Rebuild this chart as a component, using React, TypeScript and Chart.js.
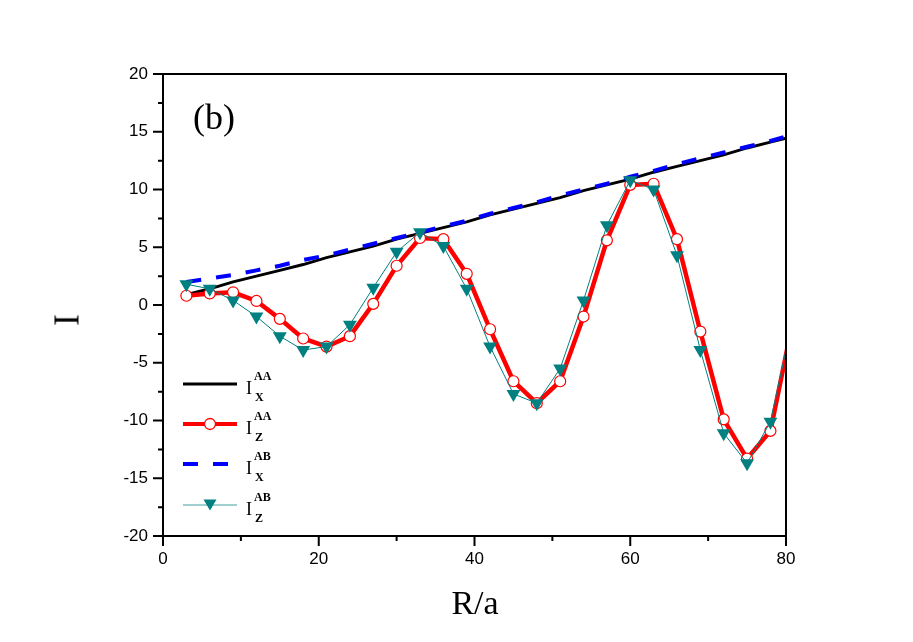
import React, { useEffect, useRef } from "react";
import { Chart, registerables } from "chart.js";

Chart.register(...registerables);

// R/a values
const R_VALUES = [3, 6, 9, 12, 15, 18, 21, 24, 27, 30, 33, 36, 39, 42, 45, 48, 51, 54, 57, 60, 63, 66, 69, 72, 75, 78, 81];
// I_X^AA (black solid)
const IX_AA = [0.9, 1.4, 2.0, 2.5, 3.0, 3.5, 4.1, 4.6, 5.1, 5.7, 6.2, 6.7, 7.2, 7.8, 8.3, 8.8, 9.3, 9.9, 10.4, 10.9, 11.5, 12.0, 12.5, 13.0, 13.6, 14.1, 14.6];
// I_Z^AA (red, open circles)
const IZ_AA = [0.8, 1.0, 1.1, 0.35, -1.2, -2.9, -3.6, -2.7, 0.1, 3.4, 5.8, 5.7, 2.7, -2.1, -6.6, -8.5, -6.6, -1.0, 5.6, 10.4, 10.5, 5.7, -2.3, -9.9, -13.3, -10.9, -1.0];
// I_X^AB (blue dashed)
const IX_AB = [2.0, 2.3, 2.6, 3.0, 3.4, 3.9, 4.3, 4.8, 5.3, 5.8, 6.3, 6.8, 7.3, 7.9, 8.4, 8.9, 9.5, 10.0, 10.5, 11.1, 11.6, 12.2, 12.7, 13.2, 13.7, 14.2, 14.8];
// I_Z^AB (teal, down triangles)
const IZ_AB = [1.8, 1.4, 0.4, -1.0, -2.7, -3.9, -3.6, -1.7, 1.5, 4.6, 6.3, 5.1, 1.4, -3.6, -7.7, -8.5, -5.5, 0.4, 6.9, 10.8, 10.0, 4.3, -3.9, -11.1, -13.7, -10.1, -0.8];

const X_TICKS = [0, 20, 40, 60, 80];
const Y_TICKS = [-20, -15, -10, -5, 0, 5, 10, 15, 20];

const TEAL = "#008080";

const toPts = (ys: number[]) => R_VALUES.map((x, i) => ({ x, y: ys[i] }));

const frameAndTicks = {
  id: "frameAndTicks",
  afterDraw(chart: any) {
    const { ctx, chartArea } = chart;
    const { left, right, top, bottom } = chartArea;
    const xs = chart.scales.x;
    const ys = chart.scales.y;
    ctx.save();
    ctx.strokeStyle = "#000";
    ctx.lineWidth = 2;
    ctx.strokeRect(left, top, right - left, bottom - top);
    ctx.beginPath();
    for (let i = 0; i < Y_TICKS.length; i++) {
      const py = ys.getPixelForValue(Y_TICKS[i]);
      ctx.moveTo(left - 10, py);
      ctx.lineTo(left, py);
      if (i < Y_TICKS.length - 1) {
        const my = ys.getPixelForValue((Y_TICKS[i] + Y_TICKS[i + 1]) / 2);
        ctx.moveTo(left - 5, my);
        ctx.lineTo(left, my);
      }
    }
    for (let i = 0; i < X_TICKS.length; i++) {
      const px = xs.getPixelForValue(X_TICKS[i]);
      ctx.moveTo(px, bottom);
      ctx.lineTo(px, bottom + 10);
      if (i < X_TICKS.length - 1) {
        const mx = xs.getPixelForValue((X_TICKS[i] + X_TICKS[i + 1]) / 2);
        ctx.moveTo(mx, bottom);
        ctx.lineTo(mx, bottom + 5);
      }
    }
    ctx.stroke();
    ctx.restore();
  },
};

const serif = "'Liberation Serif', 'Times New Roman', serif";

function LegendRow({ yc, label, sup, sub, kind }: { yc: number; label: string; sup: string; sub: string; kind: string }) {
  let sample: any = null;
  if (kind === "black") {
    sample = <line x1={0} y1={10} x2={54} y2={10} stroke="#000" strokeWidth={3} />;
  } else if (kind === "red") {
    sample = (
      <g>
        <line x1={0} y1={10} x2={54} y2={10} stroke="#ff0000" strokeWidth={4} />
        <circle cx={27} cy={10} r={5.5} fill="#fff" stroke="#ff0000" strokeWidth={1.3} />
      </g>
    );
  } else if (kind === "blue") {
    sample = <line x1={0} y1={10} x2={48} y2={10} stroke="#0000ff" strokeWidth={4} strokeDasharray="15 15" />;
  } else {
    sample = (
      <g>
        <line x1={0} y1={10} x2={54} y2={10} stroke="#7fbfbf" strokeWidth={1.5} />
        <polygon points="20.5,4.5 33.5,4.5 27,15.5" fill={TEAL} />
      </g>
    );
  }
  return (
    <>
      <svg style={{ position: "absolute", left: 183, top: yc - 10, overflow: "visible" }} width={56} height={20}>
        {sample}
      </svg>
      <span style={{ position: "absolute", left: 246, top: yc - 5, fontFamily: serif, fontSize: 18, lineHeight: 1, whiteSpace: "nowrap" }}>{label}</span>
      <span style={{ position: "absolute", left: 254, top: yc - 14, fontFamily: serif, fontSize: 12, fontWeight: "bold", lineHeight: 1, whiteSpace: "nowrap" }}>{sup}</span>
      <span style={{ position: "absolute", left: 255, top: yc + 7, fontFamily: serif, fontSize: 12, fontWeight: "bold", lineHeight: 1, whiteSpace: "nowrap" }}>{sub}</span>
    </>
  );
}

export default function App() {
  const canvasRef = useRef<HTMLCanvasElement | null>(null);

  useEffect(() => {
    if (!canvasRef.current) return;
    const chart = new Chart(canvasRef.current, {
      type: "line",
      data: {
        datasets: [
          {
            label: "I_X^AA",
            data: toPts(IX_AA),
            borderColor: "#000",
            borderWidth: 3,
            pointRadius: 0,
            fill: false,
            order: 3,
            clip: 0,
          },
          {
            label: "I_Z^AA",
            data: toPts(IZ_AA),
            borderColor: "#ff0000",
            borderWidth: 4.5,
            pointStyle: "circle",
            pointRadius: 5.5,
            pointBackgroundColor: "#ffffff",
            pointBorderColor: "#ff0000",
            pointBorderWidth: 1.2,
            fill: false,
            order: 2,
            clip: 0,
          },
          {
            label: "I_X^AB",
            data: toPts(IX_AB),
            borderColor: "#0000ff",
            borderWidth: 4,
            borderDash: [15, 15],
            pointRadius: 0,
            fill: false,
            order: 1,
            clip: 0,
          },
          {
            label: "I_Z^AB",
            data: toPts(IZ_AB),
            borderColor: TEAL,
            borderWidth: 1,
            pointStyle: "triangle",
            rotation: 180,
            pointRadius: 8,
            pointBackgroundColor: TEAL,
            pointBorderColor: TEAL,
            pointBorderWidth: 0,
            fill: false,
            order: 0,
            clip: 0,
          },
        ] as any,
      },
      options: {
        responsive: false,
        animation: false,
        events: [],
        layout: { padding: { top: 74, right: 127, left: 0, bottom: 0 } },
        plugins: { legend: { display: false }, tooltip: { enabled: false } },
        scales: {
          x: {
            type: "linear",
            min: 0,
            max: 80,
            afterBuildTicks: (scale: any) => {
              scale.ticks = X_TICKS.map((v) => ({ value: v }));
            },
            afterFit: (scale: any) => {
              scale.height = 106;
            },
            grid: { display: false, drawTicks: true, tickLength: 10 },
            border: { display: false },
            ticks: {
              padding: 3,
              color: "#000",
              font: { family: "'Liberation Sans', Arial, sans-serif", size: 17 },
              maxRotation: 0,
            },
          },
          y: {
            type: "linear",
            min: -20,
            max: 20,
            afterBuildTicks: (scale: any) => {
              scale.ticks = Y_TICKS.map((v) => ({ value: v }));
            },
            afterFit: (scale: any) => {
              scale.width = 163;
            },
            grid: { display: false, drawTicks: true, tickLength: 10 },
            border: { display: false },
            ticks: {
              padding: 5,
              color: "#000",
              font: { family: "'Liberation Sans', Arial, sans-serif", size: 17 },
            },
          },
        },
      },
      plugins: [frameAndTicks],
    });
    return () => chart.destroy();
  }, []);

  return (
    <div style={{ position: "absolute", left: 0, top: 0, width: 913, height: 642, background: "#fff", overflow: "hidden" }}>
      <canvas ref={canvasRef} width={913} height={642} style={{ position: "absolute", left: 0, top: 0 }} />
      <span style={{ position: "absolute", left: 193, top: 99, fontFamily: serif, fontSize: 36, lineHeight: 1 }}>(b)</span>
      <span style={{ position: "absolute", left: 475, top: 586, transform: "translateX(-50%)", fontFamily: serif, fontSize: 34, lineHeight: 1, whiteSpace: "nowrap" }}>R/a</span>
      <span style={{ position: "absolute", left: 67, top: 320, transform: "translate(-50%, -50%) rotate(-90deg)", fontFamily: serif, fontSize: 35, lineHeight: 1 }}>I</span>
      <LegendRow yc={384} label="I" sup="AA" sub="X" kind="black" />
      <LegendRow yc={424} label="I" sup="AA" sub="Z" kind="red" />
      <LegendRow yc={464} label="I" sup="AB" sub="X" kind="blue" />
      <LegendRow yc={505} label="I" sup="AB" sub="Z" kind="teal" />
    </div>
  );
}
